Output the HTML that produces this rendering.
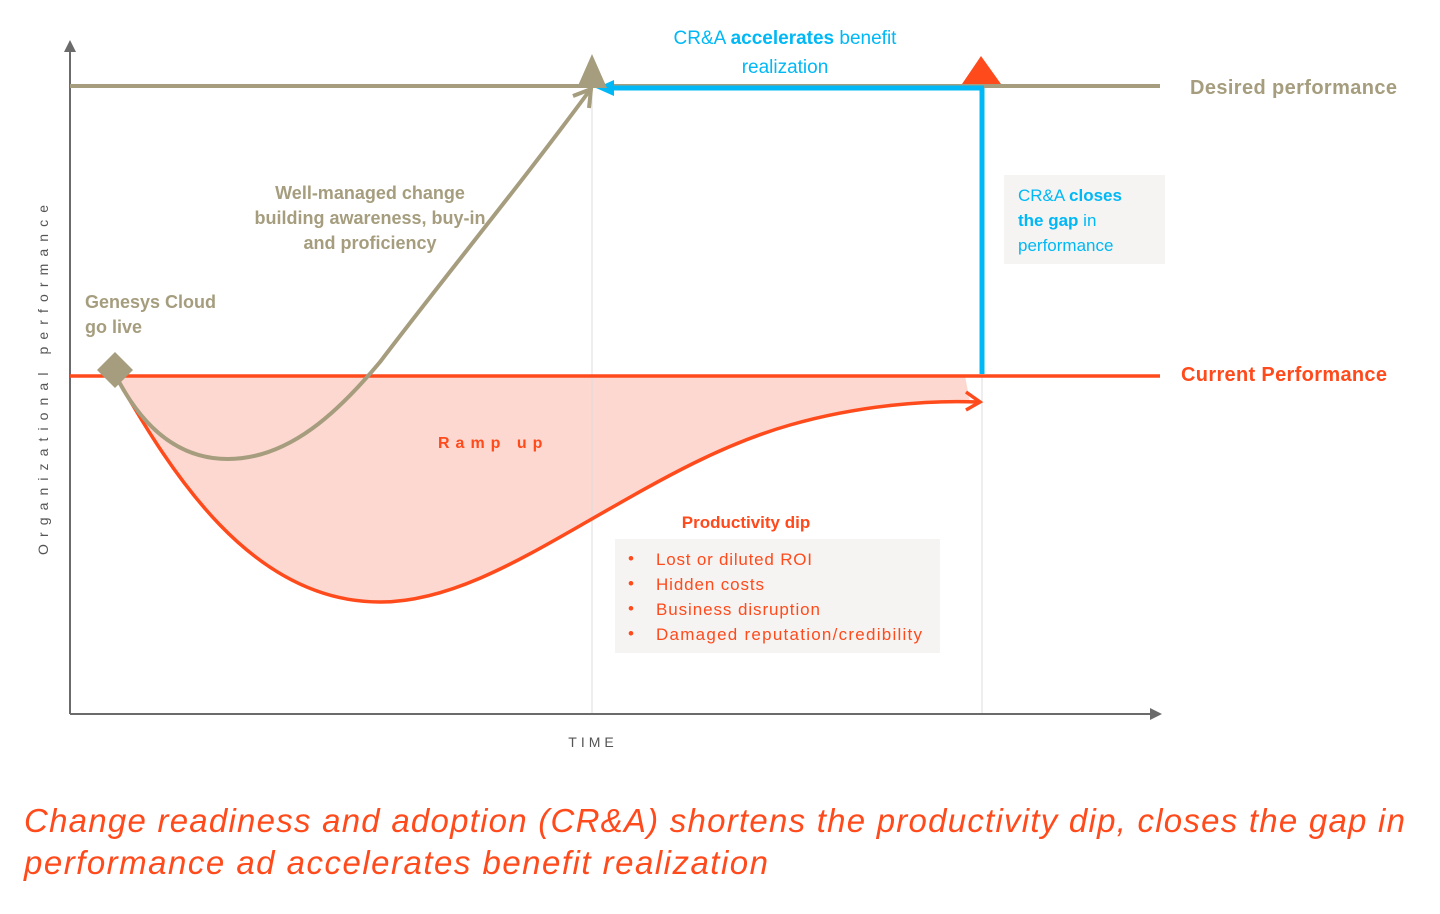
<!DOCTYPE html>
<html><head><meta charset="utf-8"><style>
body{margin:0;background:#fff;width:1440px;height:909px;overflow:hidden;font-family:"Liberation Sans",sans-serif}
</style></head><body>
<svg width="1440" height="909" viewBox="0 0 1440 909" xmlns="http://www.w3.org/2000/svg" font-family="Liberation Sans, sans-serif">
<path d="M118,376 L118,380 C170,470 250,602 380,602 C450,602 520,560 590,520 C660,480 720,445 790,425 C860,405 930,400 970,402 L965,376 Z" fill="#fdd8d0"/>
<line x1="592" y1="90" x2="592" y2="714" stroke="#dcdcdc" stroke-width="1"/>
<line x1="982" y1="90" x2="982" y2="714" stroke="#dcdcdc" stroke-width="1"/>
<line x1="70" y1="50" x2="70" y2="714" stroke="#6b6b6b" stroke-width="2"/>
<polygon points="64,52 76,52 70,40" fill="#6b6b6b"/>
<line x1="70" y1="714" x2="1152" y2="714" stroke="#6b6b6b" stroke-width="2"/>
<polygon points="1150,708 1150,720 1162,714" fill="#6b6b6b"/>
<line x1="70" y1="86" x2="1160" y2="86" stroke="#a59d7e" stroke-width="4"/>
<line x1="70" y1="376" x2="1160" y2="376" stroke="#ff4a1c" stroke-width="3.5"/>
<line x1="982" y1="88" x2="982" y2="374" stroke="#00b8f5" stroke-width="5"/>
<line x1="984" y1="88" x2="608" y2="88" stroke="#00b8f5" stroke-width="5"/>
<polygon points="596,88 614,80 614,96" fill="#00b8f5"/>
<polygon points="592,54 577,88 607,88" fill="#a59d7e"/>
<polygon points="981,56 962,84 1001,84" fill="#ff4a1c"/>
<path d="M118,380 C170,470 250,602 380,602 C450,602 520,560 590,520 C660,480 720,445 790,425 C860,405 930,400 978,402" fill="none" stroke="#ff4a1c" stroke-width="3.5"/>
<polyline points="966,392 980,402 966,410" fill="none" stroke="#ff4a1c" stroke-width="3.5"/>
<path d="M118,380 C150,440 190,459 228,459 C290,459 340,410 380,362 C450,270 520,185 590,90" fill="none" stroke="#a59d7e" stroke-width="4"/>
<polyline points="573,96 591,89 589,108" fill="none" stroke="#a59d7e" stroke-width="4"/>
<polygon points="115,352 133,370 115,388 97,370" fill="#a59d7e"/>
<rect x="1004" y="175" width="161" height="89" fill="#f5f4f2"/>
<rect x="615" y="539" width="325" height="114" fill="#f5f4f2"/>
<g font-size="18" fill="#a59d7e" font-weight="bold" text-anchor="middle">
<text x="370" y="199">Well-managed change</text>
<text x="370" y="224">building awareness, buy-in</text>
<text x="370" y="249">and proficiency</text>
</g>
<g font-size="18" fill="#a59d7e" font-weight="bold">
<text x="85" y="308">Genesys Cloud</text>
<text x="85" y="333">go live</text>
<text x="1190" y="94" font-size="20" textLength="207">Desired performance</text>
</g>
<text x="1181" y="381" font-size="20" font-weight="bold" fill="#ff4a1c" textLength="206">Current Performance</text>
<text x="438" y="448" font-size="16" font-weight="bold" fill="#ff4a1c" letter-spacing="6">Ramp  up</text>
<text x="746" y="528" font-size="17" font-weight="bold" fill="#ff4a1c" text-anchor="middle">Productivity dip</text>
<g font-size="17" fill="#ff4a1c">
<text x="628" y="564">•</text><text x="656" y="565" textLength="156">Lost or diluted ROI</text>
<text x="628" y="589">•</text><text x="656" y="590" textLength="108">Hidden costs</text>
<text x="628" y="614">•</text><text x="656" y="615" textLength="164">Business disruption</text>
<text x="628" y="639">•</text><text x="656" y="640" textLength="266">Damaged reputation/credibility</text>
</g>
<g font-size="19" fill="#00b8f5" text-anchor="middle">
<text x="785" y="44">CR&amp;A <tspan font-weight="bold">accelerates</tspan> benefit</text>
<text x="785" y="73">realization</text>
</g>
<g font-size="17" fill="#00b8f5">
<text x="1018" y="201">CR&amp;A <tspan font-weight="bold">closes</tspan></text>
<text x="1018" y="226"><tspan font-weight="bold">the gap</tspan> in</text>
<text x="1018" y="251">performance</text>
</g>
<text x="593" y="747" font-size="14" fill="#555" text-anchor="middle" letter-spacing="4">TIME</text>
<text transform="translate(48,555) rotate(-90)" font-size="14" fill="#555" textLength="350" lengthAdjust="spacing">Organizational performance</text>
<g font-size="33" font-style="italic" fill="#ff4a1c">
<text x="24" y="832" textLength="1381">Change readiness and adoption (CR&amp;A) shortens the productivity dip, closes the gap in</text>
<text x="24" y="874" textLength="744">performance ad accelerates benefit realization</text>
</g>
</svg>
</body></html>
